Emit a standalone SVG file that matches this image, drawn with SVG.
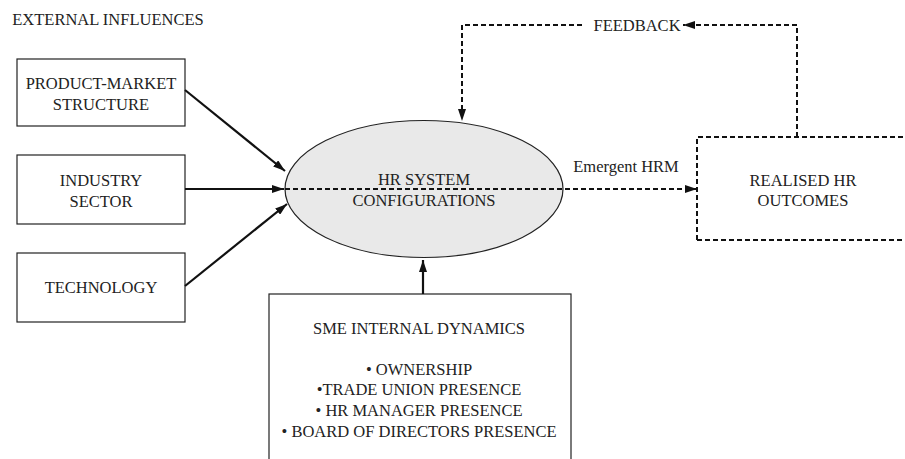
<svg xmlns="http://www.w3.org/2000/svg" width="905" height="459" viewBox="0 0 905 459">
<defs>
<style>
text{font-family:"Liberation Serif","Times New Roman",serif;font-size:16.5px;fill:#222;text-anchor:middle}
.box{fill:#fff;stroke:#222;stroke-width:1.2}
.dbox{fill:none;stroke:#111;stroke-width:2;stroke-dasharray:5,3}
.solid{fill:none;stroke:#111;stroke-width:2.2}
.dash{fill:none;stroke:#111;stroke-width:2;stroke-dasharray:5,3}
</style>
<marker id="ah" viewBox="0 0 12 8" refX="12" refY="4" markerWidth="12" markerHeight="8" markerUnits="userSpaceOnUse" orient="auto">
<path d="M0,0 L12,4 L0,8 Z" fill="#111"/>
</marker>
</defs>
<rect width="905" height="459" fill="#fff"/>
<text x="108" y="25">EXTERNAL INFLUENCES</text>
<g id="product-market">
<rect class="box" x="17" y="59" width="168" height="67"/>
<text x="101" y="89">PRODUCT-MARKET</text>
<text x="101" y="110">STRUCTURE</text>
</g>
<g id="industry">
<rect class="box" x="17" y="155" width="168" height="69"/>
<text x="101" y="186">INDUSTRY</text>
<text x="101" y="207">SECTOR</text>
</g>
<g id="technology">
<rect class="box" x="17" y="253" width="168" height="69"/>
<text x="101" y="293">TECHNOLOGY</text>
</g>
<g id="hr-system">
<ellipse cx="424" cy="189" rx="139" ry="68.5" fill="#e9e9e9" stroke="#222" stroke-width="1.2"/>
<text x="424" y="185">HR SYSTEM</text>
<text x="424" y="206">CONFIGURATIONS</text>
</g>
<g id="realised">
<path class="dbox" d="M697,240 V137 H915 M697,240 H915"/>
<text x="803" y="186">REALISED HR</text>
<text x="803" y="206">OUTCOMES</text>
</g>
<g id="sme">
<rect class="box" x="269" y="294" width="302" height="180"/>
<text x="419" y="334">SME INTERNAL DYNAMICS</text>
<text x="419" y="375">• OWNERSHIP</text>
<text x="419" y="395">•TRADE UNION PRESENCE</text>
<text x="419" y="416">• HR MANAGER PRESENCE</text>
<text x="419" y="437">• BOARD OF DIRECTORS PRESENCE</text>
</g>
<g id="connectors">
<line class="solid" x1="185" y1="90" x2="285" y2="171" marker-end="url(#ah)"/>
<line class="solid" x1="185" y1="189" x2="284" y2="189" marker-end="url(#ah)"/>
<line class="solid" x1="185" y1="286" x2="287" y2="204" marker-end="url(#ah)"/>
<line class="solid" x1="423" y1="294" x2="423" y2="260" marker-end="url(#ah)"/>
<line class="dash" x1="285" y1="189" x2="697" y2="189" marker-end="url(#ah)"/>
<text x="626" y="172">Emergent HRM</text>
<path class="dash" d="M797,137 V25 H683" marker-end="url(#ah)"/>
<text x="637" y="31">FEEDBACK</text>
<path class="dash" d="M582,25 H462 V121" marker-end="url(#ah)"/>
</g>
</svg>
